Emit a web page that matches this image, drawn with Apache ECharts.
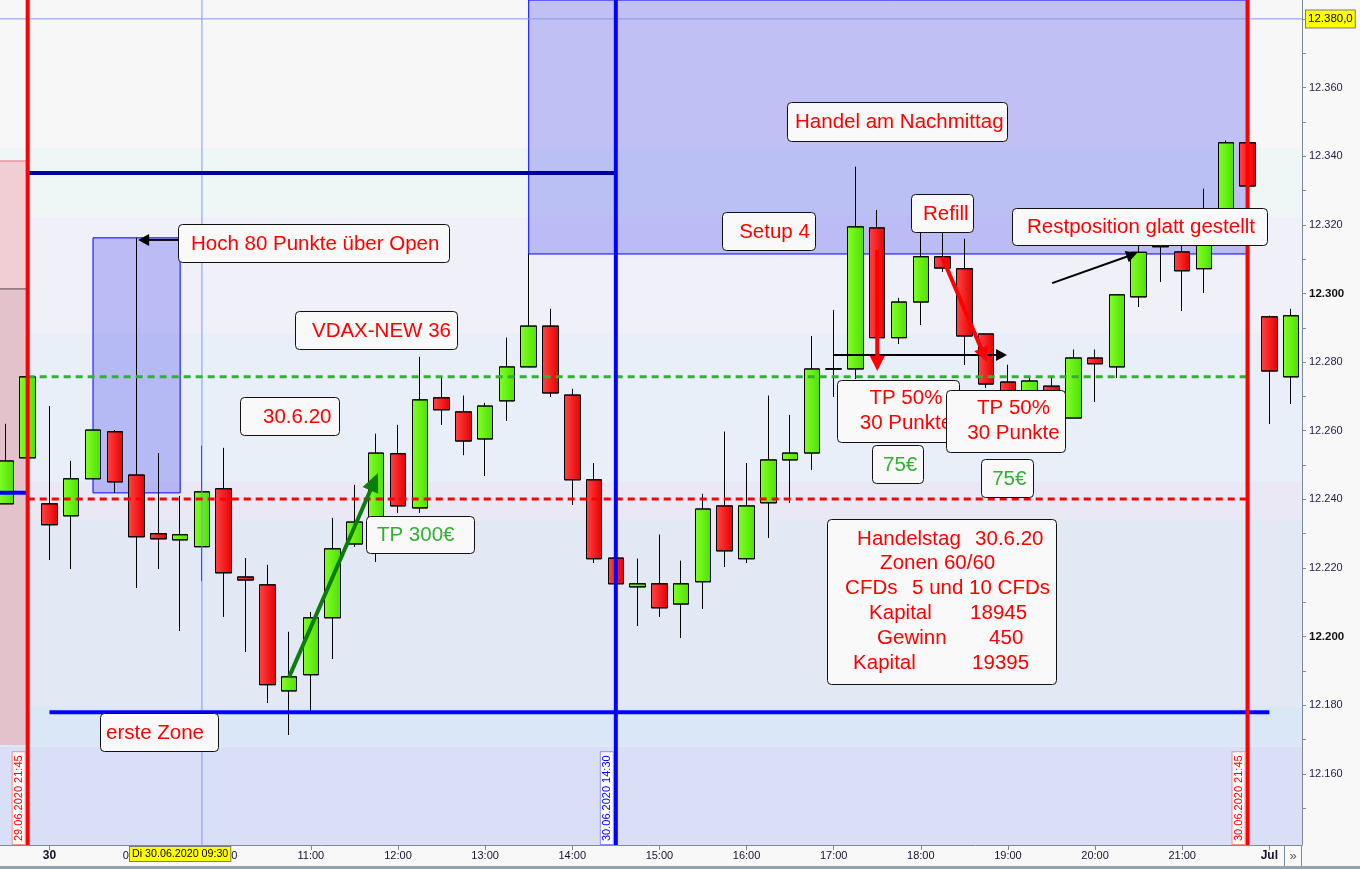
<!DOCTYPE html>
<html><head><meta charset="utf-8">
<script src="https://cdn.jsdelivr.net/npm/echarts@6/dist/echarts.min.js"></script>
<style>html,body{margin:0;padding:0;background:#f8f8f8;overflow:hidden}#c{position:absolute;left:-5px;top:0;width:1365px;height:869px}</style>
</head><body><div id="c"></div>
<script>
// ---------- DATA ----------
const categories = [
 '29.06 21:30','29.06 21:45',
 '30.06 08:00','30.06 08:15','30.06 08:30','30.06 08:45',
 '30.06 09:00','30.06 09:15','30.06 09:30','30.06 09:45',
 '30.06 10:00','30.06 10:15','30.06 10:30','30.06 10:45',
 '30.06 11:00','30.06 11:15','30.06 11:30','30.06 11:45',
 '30.06 12:00','30.06 12:15','30.06 12:30','30.06 12:45',
 '30.06 13:00','30.06 13:15','30.06 13:30','30.06 13:45',
 '30.06 14:00','30.06 14:15','30.06 14:30','30.06 14:45',
 '30.06 15:00','30.06 15:15','30.06 15:30','30.06 15:45',
 '30.06 16:00','30.06 16:15','30.06 16:30','30.06 16:45',
 '30.06 17:00','30.06 17:15','30.06 17:30','30.06 17:45',
 '30.06 18:00','30.06 18:15','30.06 18:30','30.06 18:45',
 '30.06 19:00','30.06 19:15','30.06 19:30','30.06 19:45',
 '30.06 20:00','30.06 20:15','30.06 20:30','30.06 20:45',
 '30.06 21:00','30.06 21:15','30.06 21:30','30.06 21:45',
 '01.07 08:00','01.07 08:15'
];
// [open, close, low, high]
const candles = [
 [12238.7,12251.2,12238.7,12262.0],[12252.1,12275.7,12252.1,12276.0],
 [12238.7,12232.6,12222.4,12267.2],[12235.2,12246.0,12219.7,12251.2],
 [12246.0,12260.2,12246.0,12260.2],[12259.7,12245.1,12241.9,12260.2],
 [12247.1,12229.1,12214.2,12316.2],[12230.0,12228.5,12219.7,12253.5],
 [12228.2,12229.7,12201.7,12241.0],[12226.2,12242.2,12216.2,12255.6],
 [12243.1,12218.6,12205.8,12255.0],[12217.4,12216.5,12195.6,12222.9],
 [12215.1,12186.0,12180.7,12220.9],[12184.2,12188.3,12171.4,12201.4],
 [12188.9,12205.5,12178.0,12207.2],[12205.5,12225.6,12193.5,12234.6],
 [12227.0,12233.4,12226.2,12244.2],[12234.6,12253.5,12221.8,12259.1],
 [12253.3,12238.1,12236.1,12261.7],[12237.5,12269.0,12236.1,12281.5],
 [12269.6,12266.1,12261.7,12275.7],[12265.5,12257.0,12252.9,12270.2],
 [12257.6,12267.2,12246.8,12268.1],[12268.7,12278.6,12262.9,12287.1],
 [12278.6,12290.5,12278.6,12311.5],[12290.5,12271.0,12269.9,12295.5],
 [12270.4,12245.7,12238.4,12272.2],[12245.7,12222.7,12221.5,12250.6],
 [12222.9,12215.4,12215.4,12222.9],[12214.5,12215.4,12203.1,12222.7],
 [12215.4,12208.4,12205.8,12229.7],[12209.5,12215.4,12199.6,12222.1],
 [12216.0,12237.2,12208.1,12241.6],[12238.1,12225.0,12220.3,12259.7],
 [12222.7,12238.1,12221.5,12250.6],[12239.0,12251.5,12228.8,12270.2],
 [12251.5,12253.5,12239.0,12264.6],[12253.5,12278.0,12248.6,12287.6],
 [12278.0,12278.0,12269.9,12295.2],[12278.0,12319.4,12275.1,12336.9],
 [12319.1,12287.1,12285.0,12324.3],[12287.1,12297.5,12285.3,12298.7],
 [12297.5,12310.7,12290.8,12320.0],[12310.7,12307.4,12306.3,12320.0],
 [12307.2,12287.6,12279.2,12315.9],[12288.2,12273.6,12272.5,12288.2],
 [12274.2,12270.0,12265.0,12279.2],[12271.0,12274.5,12268.0,12275.5],
 [12273.0,12271.6,12270.0,12275.5],[12263.7,12281.2,12263.7,12283.6],
 [12281.2,12279.5,12268.4,12283.6],[12278.6,12299.6,12275.4,12299.6],
 [12299.0,12312.0,12296.1,12318.0],[12314.7,12313.6,12303.4,12318.0],
 [12312.1,12306.6,12294.9,12316.0],[12307.2,12316.0,12300.2,12330.5],
 [12316.0,12343.9,12314.0,12344.5],[12343.9,12331.3,12331.3,12343.9],
 [12293.2,12277.4,12262.0,12293.5],[12275.7,12293.5,12267.8,12295.5]
];
const xTickLabels = {
 '30.06 08:00':'30','30.06 09:00':'09:00','30.06 10:00':'10:00','30.06 11:00':'11:00',
 '30.06 12:00':'12:00','30.06 13:00':'13:00','30.06 14:00':'14:00','30.06 15:00':'15:00',
 '30.06 16:00':'16:00','30.06 17:00':'17:00','30.06 18:00':'18:00','30.06 19:00':'19:00',
 '30.06 20:00':'20:00','30.06 21:00':'21:00','01.07 08:00':'Jul'
};
const boldXLabels = ['30','Jul'];
const yLabelValues = [12160,12180,12200,12220,12240,12260,12280,12300,12320,12340,12360];
const yTickValues = [12150,12160,12170,12180,12190,12200,12210,12220,12230,12240,12250,12260,12270,12280,12290,12300,12310,12320,12330,12340,12350,12360,12370,12380];
const boldYLabels = [12200,12300];
const priceRange = [12139.3,12385.5];
// background price zones (price edges from top to bottom)
const bandEdges = [12385.5,12342.4,12322.3,12288.5,12245.1,12234.0,12179.5,12167.9,12139.3];
// key levels
const prevClose = 12275.7, openLevel = 12240.1, zoneHigh = 12335.1, zoneLow = 12178.0, prevZoneLevel = 12241.9, cursorPrice = 12380;
const cursorLabel = '12.380,0', cursorTimeLabel = 'Di 30.06.2020 09:30';
// vertical markers: [category index, label]
const vMarkers = [[1,'29.06.2020 21:45'],[28,'30.06.2020 14:30'],[57,'30.06.2020 21:45']];
const cursorIndex = 9, cursorTimeIndex = 8;
// shaded boxes [i0, p0, i1, p1]
const openRangeBox = [4,12316.2,8,12241.9];
const afternoonBox = [24,12385.5,57,12311.5];
const prevDayZones = [[-0.5,12338.6,1,12301.3],[-0.5,12301.3,1,12168.4]];
// annotations: text, box [i0,p0,i1,p1]
const notes = [
 {t:'Hoch 80 Punkte über Open', b:[7.90,12320.2,20.34,12309.2], c:'r'},
 {t:'VDAX-NEW 36', b:[13.27,12294.9,20.71,12283.8], c:'r'},
 {t:'30.6.20', b:[10.75,12269.8,15.29,12258.8], c:'r'},
 {t:'TP 300€', b:[16.53,12235.2,21.49,12224.4], c:'g'},
 {t:'erste Zone', b:[4.32,12177.8,9.74,12166.7], c:'r'},
 {t:'Setup 4', b:[32.88,12323.7,37.14,12312.7], c:'r'},
 {t:'Handel am Nachmittag', b:[35.86,12355.8,45.96,12344.4], c:'r'},
 {t:'Refill', b:[41.55,12329.0,44.40,12317.9], c:'r'},
 {t:'Restposition glatt gestellt', b:[46.19,12324.9,57.89,12314.1], c:'r'},
 {t:'TP 50%\n30 Punkte', b:[38.15,12274.8,43.75,12256.7], c:'r', m:true},
 {t:'TP 50%\n30 Punkte', b:[43.16,12271.9,48.62,12253.8], c:'r', m:true},
 {t:'75€', b:[39.76,12255.8,42.10,12244.8], c:'g'},
 {t:'75€', b:[44.77,12251.8,47.15,12240.7], c:'g'}
];
const summaryBox = [37.70,12234.3,48.21,12186.2];
const summaryLines = [
 ['Handelstag','30.6.20'],['Zonen 60/60'],['CFDs','5 und 10 CFDs'],
 ['Kapital','18945'],['Gewinn','450'],['Kapital','19395']
];
// arrows: from [i,p] to [i,p]
const arrows = [
 {a:[13.0,12188.2], b:[17.08,12247.7], c:'green'},
 {a:[7.90,12315.6], b:[6.07,12315.6], c:'black'},
 {a:[37.97,12282.1], b:[45.96,12282.1], c:'black'},
 {a:[40.0,12312.7], b:[40.0,12277.4], c:'red'},
 {a:[42.98,12310.6], b:[45.04,12280.0], c:'red'},
 {a:[48.03,12303.0], b:[51.93,12311.8], c:'black'}
];

// ---------- STYLE ----------
const bandColors = ['#f7f7f7','#eff7f6','#f0f0f9','#e8eff8','#ebe8f6','#e3e8f5','#d9e7f6','#d8dff6'];
const FONT = '"Liberation Sans", Arial, sans-serif';
const fmt = v => String(v).replace(/\B(?=(\d{3})+(?!\d))/g,'.');
const textPad = {'Hoch 80 Punkte über Open':13,'VDAX-NEW 36':17,'30.6.20':23,'TP 300€':11,'erste Zone':6,'Setup 4':17,'Handel am Nachmittag':8,'Refill':12,'Restposition glatt gestellt':15,'75€':11};
const summaryOffsets = [[30,148],[53],[18,85],[42,143],[50,162],[26,145]];
const arrowStyle = {green:{col:'#0b7d0b',w:4,hl:19,hw:17}, black:{col:'#000000',w:2,hl:11,hw:12}, red:{col:'#ff0000',w:4,hl:15,hw:15}};

const chart = echarts.init(document.getElementById('c'));
const greenGrad = new echarts.graphic.LinearGradient(0,0,1,0,[{offset:0,color:'#82ff2a'},{offset:1,color:'#4ee000'}]);
const redGrad = new echarts.graphic.LinearGradient(0,0,1,0,[{offset:0,color:'#ff4444'},{offset:1,color:'#e60000'}]);

chart.setOption({
  backgroundColor:'#f8f8f8',
  animation:false,
  grid:{left:0,right:58,top:0,bottom:24,containLabel:false},
  xAxis:[
    {type:'category',data:categories,boundaryGap:true,
     axisLine:{show:true,onZero:false,lineStyle:{color:'#7d8a97',width:1}},
     axisTick:{show:true,alignWithLabel:true,length:5,interval:(i)=>!!xTickLabels[categories[i]],lineStyle:{color:'#7d8a97'}},
     axisLabel:{interval:(i)=>!!xTickLabels[categories[i]],margin:5,fontSize:11,fontFamily:FONT,color:'#12122e',
       formatter:(v)=>{const l=xTickLabels[v]||'';return boldXLabels.includes(l)?'{b|'+l+'}':l;},
       rich:{b:{fontWeight:'bold',fontSize:12,fontFamily:FONT,color:'#12122e'}}},
     splitLine:{show:false}},
    {type:'value',min:-0.5,max:categories.length-0.5,show:false}
  ],
  yAxis:[{type:'value',position:'right',min:priceRange[0],max:priceRange[1],
    axisLine:{show:true,onZero:false,lineStyle:{color:'#7d8a97'}},
    axisTick:{show:true,customValues:yTickValues,length:4,lineStyle:{color:'#7d8a97'}},
    axisLabel:{customValues:yLabelValues,margin:7,fontSize:11,fontFamily:FONT,color:'#221a4d',
      formatter:(v)=>boldYLabels.includes(v)?'{b|'+fmt(v)+'}':fmt(v),
      rich:{b:{fontWeight:'bold',fontSize:11.5,fontFamily:FONT,color:'#111'}}},
    splitLine:{show:false}}],
  series:[{type:'candlestick',xAxisIndex:0,yAxisIndex:0,data:candles,barWidth:16,z:2,
    itemStyle:{color:greenGrad,color0:redGrad,borderColor:'#000',borderColor0:'#000',borderWidth:1}}]
});

// ---------- OVERLAYS (positioned from data via axes) ----------
const P = (i,p) => chart.convertToPixel({xAxisIndex:1,yAxisIndex:0},[i,p]);
const G = [];
const [gx0, gy0] = P(-0.5, priceRange[1]);
const [gx1, gy1] = P(categories.length-0.5, priceRange[0]);
function rectD(b, style, z){
  const [x0,y0]=P(b[0],b[1]), [x1,y1]=P(b[2],b[3]);
  G.push({type:'rect',silent:true,z,shape:{x:Math.min(x0,x1),y:Math.min(y0,y1),width:Math.abs(x1-x0),height:Math.abs(y1-y0)},style});
  return [x0,y0,x1,y1];
}
function lineD(i0,p0,i1,p1,style,z){
  const [x0,y0]=P(i0,p0),[x1,y1]=P(i1,p1);
  G.push({type:'line',silent:true,z,shape:{x1:x0,y1:y0,x2:x1,y2:y1},style});
}
// bands
for(let k=0;k<bandColors.length;k++) rectD([-0.5,bandEdges[k],categories.length-0.5,bandEdges[k+1]],{fill:bandColors[k]},-2);
// previous day zones
rectD(prevDayZones[0],{fill:'#f1cdd4',stroke:'#e87080',lineWidth:1},-1);
rectD(prevDayZones[1],{fill:'#e3c2cc'},-1);
lineD(-0.5,prevDayZones[0][3],1,prevDayZones[0][3],{stroke:'#555',lineWidth:1},-1);
// boxes
rectD(openRangeBox,{fill:'rgba(0,0,235,0.22)',stroke:'#0000ff',lineWidth:1},1);
rectD(afternoonBox,{fill:'rgba(0,0,235,0.22)',stroke:'#0000ff',lineWidth:1},1);
// cursor lines
lineD(-0.5,cursorPrice,categories.length-0.5,cursorPrice,{stroke:'#7d9af0',lineWidth:1},5);
lineD(cursorIndex,priceRange[1],cursorIndex,priceRange[0],{stroke:'#7d9af0',lineWidth:1},5);
// horizontal levels
lineD(1,openLevel,57,openLevel,{stroke:'#ff0000',lineWidth:3,lineDash:[7,5]},5);
lineD(1,prevClose,57,prevClose,{stroke:'#33b033',lineWidth:3,lineDash:[7,5]},5);
lineD(1,zoneHigh,28,zoneHigh,{stroke:'#0000a0',lineWidth:4},5);
lineD(2,zoneLow,58,zoneLow,{stroke:'#0000ff',lineWidth:4},5);
lineD(-0.5,prevZoneLevel,1,prevZoneLevel,{stroke:'#0000ff',lineWidth:4},5);
// vertical markers
vMarkers.forEach(([i,lab],k)=>{
  const col = k===1?'#0000ff':'#ff0000';
  lineD(i,priceRange[1],i,priceRange[0],{stroke:col,lineWidth:4},6);
  const [x] = P(i,priceRange[0]);
  G.push({type:'text',silent:true,z:9,x:x-9,y:gy1-1,rotation:Math.PI/2,
    style:{text:lab,fill:col,font:'11px '+FONT,textAlign:'left',textVerticalAlign:'middle',
      backgroundColor:'#ffffff',borderColor:k===1?'#8c8cff':'#f09090',borderWidth:1,padding:[1,3,0,3]}});
});
// arrows
arrows.forEach(ar=>{
  const s = arrowStyle[ar.c];
  const [x1,y1]=P(...ar.a),[x2,y2]=P(...ar.b);
  const dx=x2-x1,dy=y2-y1,L=Math.hypot(dx,dy),ux=dx/L,uy=dy/L;
  const bx=x2-ux*s.hl,by=y2-uy*s.hl;
  G.push({type:'line',silent:true,z:7,shape:{x1,y1,x2:bx+ux*2,y2:by+uy*2},style:{stroke:s.col,lineWidth:s.w}});
  G.push({type:'polygon',silent:true,z:7,shape:{points:[[x2,y2],[bx-uy*s.hw/2,by+ux*s.hw/2],[bx+uy*s.hw/2,by-ux*s.hw/2]]},style:{fill:s.col}});
});
// text boxes
const boxStyle = {fill:'#f9f9f9',stroke:'#111',lineWidth:1};
function drawBox(b,z){
  const [x0,y0]=P(b[0],b[1]),[x1,y1]=P(b[2],b[3]);
  G.push({type:'rect',silent:true,z,shape:{x:Math.round(x0)+0.5,y:Math.round(y0)+0.5,width:Math.round(x1-x0),height:Math.round(y1-y0),r:4},style:boxStyle});
  return [x0,y0,x1,y1];
}
notes.forEach((n,k)=>{
  const z=8+k*0.01;
  const [x0,y0,x1,y1]=drawBox(n.b,z);
  const fill = n.c==='g'?'#33b033':'#ff0000';
  if(n.m){
    G.push({type:'text',silent:true,z:z+0.005,x:(x0+x1)/2+8,y:(y0+y1)/2,
      style:{text:n.t,fill,font:'20.5px '+FONT,textAlign:'center',textVerticalAlign:'middle',lineHeight:25}});
  } else {
    G.push({type:'text',silent:true,z:z+0.005,x:x0+(textPad[n.t]||10),y:(y0+y1)/2+1,
      style:{text:n.t,fill,font:'20.5px '+FONT,textAlign:'left',textVerticalAlign:'middle'}});
  }
});
{
  const [x0,y0]=drawBox(summaryBox,8.5);
  summaryLines.forEach((ln,r)=>{
    ln.forEach((seg,s)=>{
      G.push({type:'text',silent:true,z:8.51,x:x0+summaryOffsets[r][s],y:y0+20+r*24.8,
        style:{text:seg,fill:'#ff0000',font:'20.5px '+FONT,textAlign:'left',textVerticalAlign:'middle'}});
    });
  });
}
// cursor labels
{
  const [,cy]=P(0,cursorPrice);
  G.push({type:'text',silent:true,z:9,x:gx1+4,y:cy,style:{text:cursorLabel,fill:'#000',font:'11.5px '+FONT,textAlign:'left',textVerticalAlign:'middle',backgroundColor:'#ffff00',borderColor:'#7a7a7a',borderWidth:1,padding:[3,2,2,2]}});
  const [tx]=P(cursorTimeIndex,0);
  G.push({type:'text',silent:true,z:9,x:tx,y:gy1+2,style:{text:cursorTimeLabel,fill:'#000',font:'10.7px '+FONT,textAlign:'center',textVerticalAlign:'top',backgroundColor:'#ffff00',borderColor:'#7a7a7a',borderWidth:1,padding:[2,2,1,2]}});
}
// axis chrome: scroll button and bottom bar
G.push({type:'rect',silent:true,z:3,shape:{x:gx1-17.5,y:gy1+0.5,width:17,height:21},style:{fill:'#f8f8f8',stroke:'#7d8a97',lineWidth:1}});
G.push({type:'text',silent:true,z:4,x:gx1-9,y:gy1+11,style:{text:'»',fill:'#555',font:'13px '+FONT,textAlign:'center',textVerticalAlign:'middle'}});
G.push({type:'rect',silent:true,z:3,shape:{x:0,y:gy1+21,width:1400,height:10},style:{fill:'#8fa3b3'}});

chart.setOption({graphic:{elements:G}});
</script></body></html>
